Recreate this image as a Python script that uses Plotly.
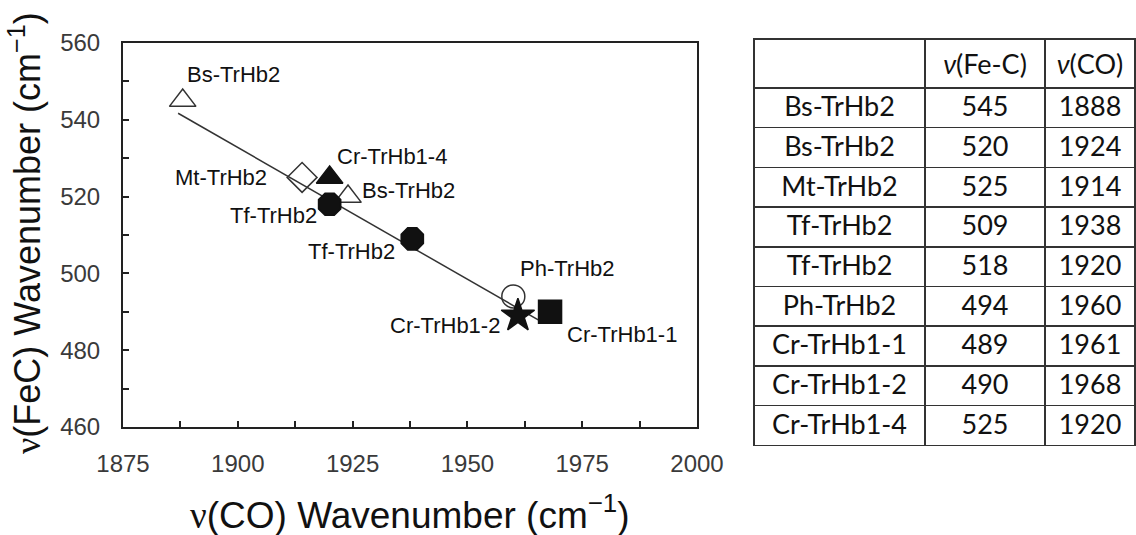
import plotly.graph_objects as go

# ---- data ----
proteins = ["Bs-TrHb2", "Bs-TrHb2", "Mt-TrHb2", "Tf-TrHb2", "Tf-TrHb2",
            "Ph-TrHb2", "Cr-TrHb1-1", "Cr-TrHb1-2", "Cr-TrHb1-4"]
nu_fec = [545, 520, 525, 509, 518, 494, 489, 490, 525]
nu_co = [1888, 1924, 1914, 1938, 1920, 1960, 1961, 1968, 1920]

# labels as printed next to the markers in the plot
plot_labels = ["Bs-TrHb2", "Bs-TrHb2", "Mt-TrHb2", "Tf-TrHb2", "Tf-TrHb2",
               "Ph-TrHb2", "Cr-TrHb1-2", "Cr-TrHb1-1", "Cr-TrHb1-4"]
symbols = ["triangle-up-open", "triangle-up-open", "diamond-open", "octagon", "octagon",
           "circle-open", "star", "square", "triangle-up"]
sizes = [23, 23, 23, 24, 24, 23, 25, 23, 23]
# label offsets in px (dx, dy downward)
label_dx = [51, 60, -81, -61, -56, 54, -73, 72, 62]
label_dy = [-26, -6, 0, 13, 11, -28, 10, 23, -21]

# fitted line endpoints
fit_x = [1887, 1966]
fit_y = [541.7, 487.5]

x_range = [1875, 2000]
y_range = [460, 560]

W, H = 1136, 535
plot_l, plot_r, plot_t, plot_b = 123, 697, 43, 427

fig = go.Figure()

fig.add_trace(go.Scatter(x=fit_x, y=fit_y, mode="lines",
                         line=dict(color="#333333", width=1.5),
                         showlegend=False, hoverinfo="skip"))

for i in range(len(nu_co)):
    filled = not symbols[i].endswith("-open")
    fig.add_trace(go.Scatter(
        x=[nu_co[i]], y=[nu_fec[i]], mode="markers",
        marker=dict(symbol=symbols[i], size=sizes[i],
                    color="#111111" if filled else "#333333",
                    line=dict(color="#111111" if filled else "#333333", width=1.5)),
        showlegend=False, name=proteins[i]))
    fig.add_annotation(x=nu_co[i], y=nu_fec[i], xref="x", yref="y",
                       text=plot_labels[i], showarrow=False,
                       xshift=label_dx[i], yshift=-label_dy[i],
                       font=dict(family="Liberation Sans, Arial", size=22, color="#111111"))

axis_common = dict(showline=True, mirror=True, linewidth=2, linecolor="#222222",
                   ticks="inside", ticklen=6, tickwidth=1.5, tickcolor="#222222",
                   showgrid=False, zeroline=False, automargin=False,
                   tickfont=dict(family="Liberation Sans, Arial", size=24, color="#3a3a3a"))

fig.update_xaxes(range=x_range, dtick=25, tick0=1875,
                 domain=[plot_l / W, plot_r / W], ticklabelstandoff=14,
                 minor=dict(dtick=12.5, ticks="inside", ticklen=6, tickwidth=1.5, tickcolor="#222222"),
                 **axis_common)
fig.update_yaxes(range=y_range, dtick=20, tick0=460,
                 domain=[1 - plot_b / H, 1 - plot_t / H], ticklabelstandoff=16,
                 minor=dict(dtick=10, ticks="inside", ticklen=6, tickwidth=1.5, tickcolor="#222222"),
                 **axis_common)

nu = "<span style='font-family:Liberation Serif'>ν</span>"
fig.add_annotation(text=nu + "(CO) Wavenumber (cm<sup>−1</sup>)", xref="paper", yref="paper",
                   x=(plot_l + plot_r) / 2 / W, y=1 - 512 / H, showarrow=False,
                   xanchor="center", yanchor="middle",
                   font=dict(family="Liberation Sans, Arial", size=37, color="#111111"))
fig.add_annotation(text=nu + "(FeC) Wavenumber (cm<sup>−1</sup>)", xref="paper", yref="paper",
                   x=25 / W, y=1 - 233 / H, showarrow=False, textangle=-90,
                   xanchor="center", yanchor="middle",
                   font=dict(family="Liberation Sans, Arial", size=36, color="#111111"))

# ---- table ----
header_vals = ["", "<i>ν</i>(Fe-C)", "<i>ν</i>(CO)"]
fig.add_trace(go.Table(
    domain=dict(x=[754 / W, 1135.5 / W], y=[0, 1 - 39 / H]),
    columnwidth=[171, 120, 90],
    header=dict(values=header_vals, height=39.7, align="center",
                line=dict(color="#333333", width=1.5), fill=dict(color="white"),
                font=dict(family="Lato, Calibri", size=27, color="#111111")),
    cells=dict(values=[proteins, nu_fec, nu_co], height=39.7, align="center",
               line=dict(color="#333333", width=1.5), fill=dict(color="white"),
               font=dict(family="Lato, Calibri", size=27, color="#111111")),
))

fig.update_layout(width=W, height=H, margin=dict(l=0, r=0, t=0, b=0),
                  paper_bgcolor="white", plot_bgcolor="white", showlegend=False)

fig.write_html("out.html", config={"displayModeBar": False},
               post_script="document.body.style.margin='0';document.body.style.overflow='hidden';")
